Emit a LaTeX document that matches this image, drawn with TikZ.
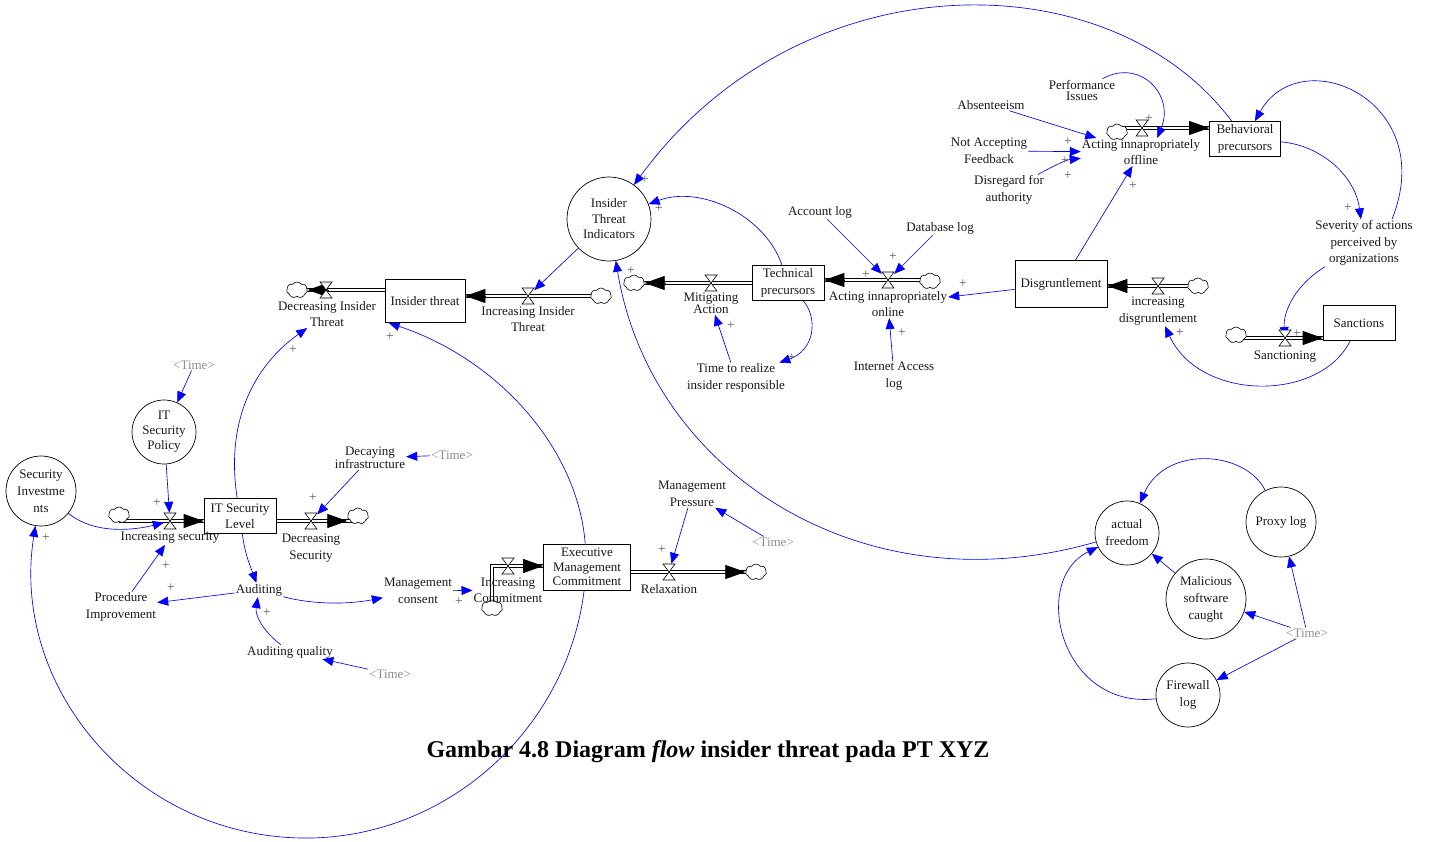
\documentclass[tikz,border=0pt]{standalone}
\usepackage{fontspec}
\setmainfont{Liberation Serif}
\usetikzlibrary{arrows.meta,shapes.symbols,calc}
\pgfdeclarelayer{bg}
\pgfsetlayers{bg,main}

\tikzset{
  txt/.style={font=\fontsize{13}{16.5}\selectfont, align=center, inner sep=1pt, text=black!90},
  tighttxt/.style={txt, font=\fontsize{13}{11}\selectfont},
  timevar/.style={txt, text=black!45},
  stockbox/.style={txt, draw, line width=0.7pt, fill=white, inner sep=2pt},
  auxcirc/.style={txt, draw, circle, line width=0.7pt, inner sep=0pt, font=\fontsize{13}{15.5}\selectfont},
  link/.style={draw=blue, line width=0.65pt, -{Triangle[length=11pt,width=9pt]}},
  pipe/.style={draw=black, double=white, double distance=2.2pt, line width=0.7pt},
  flowtip/.style={draw=black, line width=0.7pt, -{Triangle[length=20pt,width=14pt]}},
  valvebox/.style={inner sep=0pt, minimum width=12pt, minimum height=16pt},
  sink/.style={cloud, cloud puffs=7, cloud puff arc=110, draw, fill=white, line width=0.6pt,
    minimum width=21pt, minimum height=16pt, inner sep=0pt, aspect=1.3},
  pol/.style={text=black!65, font=\fontsize{13.5}{13.5}\selectfont, inner sep=0pt},
  valve/.pic={\draw[fill=white, line width=0.6pt] (-6,-8) -- (6,-8) -- (-6,8) -- (6,8) -- cycle;}
}

\begin{document}
\begin{tikzpicture}[x=1pt,y=-1pt]
\useasboundingbox (0,0) rectangle (1434,841);

% ---------- stocks ----------
\node[stockbox, minimum width=80pt, minimum height=43pt] (it) at (425,301) {Insider threat};
\node[stockbox, minimum width=72pt, minimum height=35pt] (tp) at (788,283) {Technical\\precursors};
\node[stockbox, minimum width=92pt, minimum height=47pt] (dg) at (1061,284) {Disgruntlement};
\node[stockbox, minimum width=71pt, minimum height=35pt] (bp) at (1245,139) {Behavioral\\precursors};
\node[stockbox, minimum width=72pt, minimum height=35pt] (sn) at (1359,323) {Sanctions};
\node[stockbox, minimum width=72pt, minimum height=35pt] (itsl) at (240,516) {IT Security\\Level};
\node[stockbox, font=\fontsize{13}{14.5}\selectfont, minimum width=87pt, minimum height=46pt] (emc) at (587,567) {Executive\\Management\\Commitment};

% ---------- circled variables ----------
\node[auxcirc, minimum size=84pt] (iti) at (609,219) {Insider\\Threat\\Indicators};
\node[auxcirc, minimum size=70pt, font=\fontsize{13}{17}\selectfont] (si) at (41,491) {Security\\Investme\\nts};
\node[auxcirc, minimum size=64pt, font=\fontsize{13}{15}\selectfont] (isp) at (164,432) {IT\\Security\\Policy};
\node[auxcirc, minimum size=64pt, font=\fontsize{13}{17}\selectfont] (af) at (1127,533) {actual\\freedom};
\node[auxcirc, minimum size=70pt] (pl) at (1281,522) {Proxy log};
\node[auxcirc, minimum size=80pt, font=\fontsize{13}{17}\selectfont] (ms) at (1206,599) {Malicious\\software\\caught};
\node[auxcirc, minimum size=64pt, font=\fontsize{13}{17}\selectfont] (fl) at (1188,695) {Firewall\\log};

% ---------- valves ----------
\node[valvebox] (v_iit) at (528,296) {};
\node[valvebox] (v_dit) at (326,290) {};
\node[valvebox] (v_ma) at (711,283) {};
\node[valvebox] (v_aon) at (888,280) {};
\node[valvebox] (v_idg) at (1158,286) {};
\node[valvebox] (v_aof) at (1142,128) {};
\node[valvebox] (v_sc) at (1285,338) {};
\node[valvebox] (v_is) at (170,521) {};
\node[valvebox] (v_ds) at (311,521) {};
\node[valvebox] (v_ic) at (508,566) {};
\node[valvebox] (v_rx) at (669,572) {};

% ---------- sources and sinks ----------
\node[sink] (c_iit) at (601,296) {};
\node[sink] (c_dit) at (297,290) {};
\node[sink] (c_ma) at (634,283) {};
\node[sink] (c_aon) at (930,281) {};
\node[sink] (c_idg) at (1198,286) {};
\node[sink] (c_aof) at (1117,132) {};
\node[sink] (c_sc) at (1236,335) {};
\node[sink] (c_is) at (119,515) {};
\node[sink] (c_ds) at (358,516) {};
\node[sink] (c_ic) at (492,608) {};
\node[sink] (c_rx) at (756,572) {};

% ---------- flow names ----------
\node[txt] (l_iit) at (528,319) {Increasing Insider\\Threat};
\node[txt] (l_dit) at (327,314) {Decreasing Insider\\Threat};
\node[tighttxt] (l_ma) at (711,303) {Mitigating\\Action};
\node[txt] (l_aon) at (888,304) {Acting innapropriately\\online};
\node[txt] (l_idg) at (1158,311) {increasing\\disgruntlement};
\node[txt] (l_aof) at (1141,152) {Acting innapropriately\\offline};
\node[txt] (l_sc) at (1285,357) {Sanctioning};
\node[txt] (l_is) at (170,538) {Increasing security};
\node[txt] (l_ds) at (311,548) {Decreasing\\Security};
\node[txt] (l_ic) at (508,590) {Increasing\\Commitment};
\node[txt] (l_rx) at (669,589) {Relaxation};

% ---------- auxiliaries ----------
\node[tighttxt] (pis) at (1082,90) {Performance\\Issues};
\node[txt] (abs) at (991,105) {Absenteeism};
\node[txt] (naf) at (989,151) {Not Accepting\\Feedback};
\node[txt] (dfa) at (1009,190) {Disregard for\\authority};
\node[txt] (al) at (820,212) {Account log};
\node[txt] (dbl) at (940,228) {Database log};
\node[txt] (ial) at (894,376) {Internet Access\\log};
\node[txt] (tr) at (736,378) {Time to realize\\insider responsible};
\node[txt] (sev) at (1364,243) {Severity of actions\\perceived by\\organizations};
\node[timevar] (t1) at (194,365) {<Time>};
\node[tighttxt] (di) at (370,458) {Decaying\\infrastructure};
\node[timevar] (t2) at (452,455) {<Time>};
\node[txt] (mp) at (692,494) {Management\\Pressure};
\node[timevar] (t3) at (773,542) {<Time>};
\node[txt] (pi) at (121,607) {Procedure\\Improvement};
\node[txt] (aud) at (259,590) {Auditing};
\node[txt] (mc) at (418,591) {Management\\consent};
\node[txt] (aq) at (290,652) {Auditing quality};
\node[timevar] (t4) at (390,674) {<Time>};
\node[timevar] (t5) at (1307,633) {<Time>};

% ---------- caption ----------
\node[font=\fontsize{24}{29}\selectfont\bfseries, inner sep=0pt] (cap) at (708,752)
  {Gambar 4.8 Diagram \textit{flow} insider threat pada PT XYZ};

% ---------- polarity signs ----------
\node[pol] (s1) at (645,180) {+};
\node[pol] (s2) at (659,209) {+};
\node[pol] (s3) at (390,337) {+};
\node[pol] (s4) at (46,538) {+};
\node[pol] (s5) at (293,350) {+};
\node[pol] (s6) at (157,503) {+};
\node[pol] (s7) at (166,566) {+};
\node[pol] (s8) at (171,588) {+};
\node[pol] (s9) at (267,613) {+};
\node[pol] (s10) at (459,602) {+};
\node[pol] (s11) at (313,498) {+};
\node[pol] (s12) at (662,550) {+};
\node[pol] (s13) at (866,275) {+};
\node[pol] (s14) at (893,257) {+};
\node[pol] (s15) at (902,333) {+};
\node[pol] (s16) at (963,284) {+};
\node[pol] (s17) at (1133,186) {+};
\node[pol] (s18) at (731,326) {+};
\node[pol] (s19) at (792,358) {+};
\node[pol] (s20) at (631,271) {+};
\node[pol] (s21) at (1068,142) {+};
\node[pol] (s22) at (1065,161) {+};
\node[pol] (s23) at (1068,176) {+};
\node[pol] (s24) at (1149,119) {+};
\node[pol] (s25) at (1348,208) {+};
\node[pol] (s26) at (1297,334) {+};
\node[pol] (s27) at (1180,333) {+};

% ---------- flow arrowheads ----------
\draw[flowtip] ($(it.east |- v_iit)+(20,0)$) -- (it.east |- v_iit);
\draw[flowtip] ($(c_dit.east |- v_dit)+(20,0)$) -- (c_dit.east |- v_dit);
\draw[flowtip] ($(c_ma.east |- v_ma)+(20,0)$) -- (c_ma.east |- v_ma);
\draw[flowtip] ($(tp.east |- v_aon)+(20,0)$) -- (tp.east |- v_aon);
\draw[flowtip] ($(dg.east |- v_idg)+(20,0)$) -- (dg.east |- v_idg);
\draw[flowtip] ($(bp.west |- v_aof)+(-20,0)$) -- (bp.west |- v_aof);
\draw[flowtip] ($(sn.west |- v_sc)+(-20,0)$) -- (sn.west |- v_sc);
\draw[flowtip] ($(itsl.west |- v_is)+(-20,0)$) -- (itsl.west |- v_is);
\draw[flowtip] ($(c_ds.west |- v_ds)+(-20,0)$) -- (c_ds.west |- v_ds);
\draw[flowtip] ($(emc.west |- v_ic)+(-20,0)$) -- (emc.west |- v_ic);
\draw[flowtip] ($(c_rx.west |- v_rx)+(-20,0)$) -- (c_rx.west |- v_rx);

% ---------- valve symbols ----------
\foreach \v in {v_iit,v_dit,v_ma,v_aon,v_idg,v_aof,v_sc,v_is,v_ds,v_ic,v_rx}
  \pic at (\v) {valve};

\begin{pgfonlayer}{bg}
% ---------- pipes ----------
\draw[pipe] (c_iit.center |- v_iit) -- (v_iit.center) -- (it.east |- v_iit);
\draw[pipe] (it.west |- v_dit) -- (v_dit.center) -- (c_dit.center |- v_dit);
\draw[pipe] (tp.west |- v_ma) -- (v_ma.center) -- (c_ma.center |- v_ma);
\draw[pipe] (c_aon.center |- v_aon) -- (v_aon.center) -- (tp.east |- v_aon);
\draw[pipe] (c_idg.center |- v_idg) -- (v_idg.center) -- (dg.east |- v_idg);
\draw[pipe] (c_aof.center |- v_aof) -- (v_aof.center) -- (bp.west |- v_aof);
\draw[pipe] (c_sc.center |- v_sc) -- (v_sc.center) -- (sn.west |- v_sc);
\draw[pipe] (c_is.center |- v_is) -- (v_is.center) -- (itsl.west |- v_is);
\draw[pipe] (itsl.east |- v_ds) -- (v_ds.center) -- (c_ds.center |- v_ds);
\draw[pipe] (c_ic.center) |- (v_ic.center) -- (emc.west |- v_ic);
\draw[pipe] (emc.east |- v_rx) -- (v_rx.center) -- (c_rx.center |- v_rx);

% ---------- causal links ----------
\draw[link] (bp) .. controls (1110,-42) and (800,-42) .. (iti);
\draw[link] (tp) .. controls (765,215) and (700,185) .. (iti);
\draw[link] (iti) -- (v_iit);
\draw[link] (emc) .. controls (578,450) and (500,360) .. ([xshift=4pt]it.south west);
\draw[link] (emc) .. controls (565.5,741) and (427.6,854) .. (273.9,836.2)
                  .. controls (120.2,818.7) and (11.2,677.9) .. (si);
\draw[link] (itsl) .. controls (225,420) and (255,365) .. (l_dit);
\draw[link] (isp) -- (v_is);
\draw[link] (t1) -- (isp);
\draw[link] (si) .. controls (95,535) and (135,530) .. (v_is);
\draw[link] (pi) -- (l_is);
\draw[link] (itsl) .. controls (245,555) and (251,568) .. (aud);
\draw[link] (aud) -- (pi);
\draw[link] (aud) .. controls (310,604) and (345,605) .. (mc);
\draw[link] (aq) .. controls (262,630) and (255,615) .. (aud);
\draw[link] (t4) -- (aq);
\draw[link] (mc) -- (l_ic);
\draw[link] (di) -- (v_ds);
\draw[link] (t2) -- (di);
\draw[link] (mp) -- (v_rx);
\draw[link] (t3) -- (mp);
\draw[link] (al) -- (v_aon);
\draw[link] (dbl) -- (v_aon);
\draw[link] (ial) -- (l_aon);
\draw[link] (dg) -- (l_aon);
\draw[link] (dg) -- (l_aof);
\draw[link] (tp) .. controls (818,318) and (815,350) .. (tr);
\draw[link] (tr) -- (l_ma);
\draw[link] (af) .. controls (860,610) and (650,470) .. (iti);
\draw[link] (abs) -- (l_aof);
\draw[link] (naf) -- (l_aof);
\draw[link] (dfa) .. controls (1050,168) and (1065,160) .. (l_aof);
\draw[link] (pis) .. controls (1140,58) and (1175,95) .. ($(l_aof.north)+(16,0)$);
\draw[link] (bp) .. controls (1320,145) and (1355,175) .. (sev);
\draw[link] ([xshift=-22pt]sev.north east) .. controls (1440,100) and (1300,40) .. (bp);
\draw[link] (sev) .. controls (1295,285) and (1283,312) .. (v_sc.center);
\draw[link] (sn) .. controls (1320,402) and (1200,402) .. (l_idg);
\draw[link] (pl) .. controls (1245,450) and (1165,445) .. (af);
\draw[link] (ms) -- (af);
\draw[link] (fl) .. controls (1060,710) and (1030,580) .. (af);
\draw[link] (t5) -- (ms);
\draw[link] (t5) -- (fl);
\draw[link] (t5) -- (pl);
\end{pgfonlayer}
\end{tikzpicture}
\end{document}
